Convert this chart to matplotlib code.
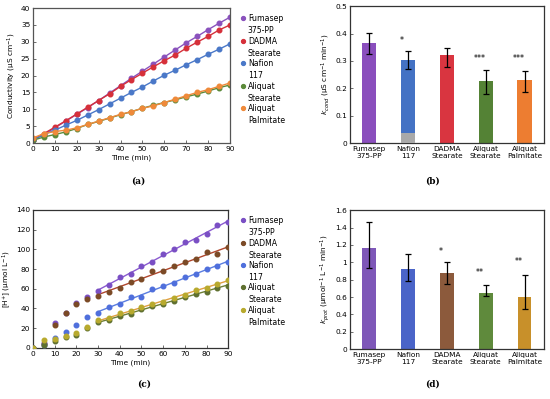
import numpy as np
import matplotlib
matplotlib.use("Agg")
import matplotlib.pyplot as plt
from matplotlib.ticker import FuncFormatter

# ---- data ----
t = np.arange(0, 95, 5)
names = ["Fumasep\n375-PP", "Nafion\n117", "DADMA\nStearate", "Aliquat\nStearate", "Aliquat\nPalmitate"]

# (a) conductivity vs time
cond_fum = [1.0, 2.5, 4.5, 6.5, 8.5, 10.5, 12.6, 14.8, 17.0, 19.2, 21.3, 23.4, 25.5, 27.6, 29.7, 31.6, 33.6, 35.5, 37.3]
cond_dad = [1.0, 2.8, 4.7, 6.6, 8.6, 10.6, 12.6, 14.6, 16.8, 18.8, 20.7, 22.6, 24.4, 26.1, 28.1, 29.9, 31.6, 33.5, 35.0]
cond_naf = [0.9, 2.5, 3.8, 5.3, 6.7, 8.3, 9.9, 11.6, 13.3, 15.0, 16.6, 18.4, 20.1, 21.6, 23.2, 24.7, 26.3, 27.8, 29.4]
cond_ast = [0.8, 1.8, 2.5, 3.3, 4.3, 5.5, 6.4, 7.4, 8.4, 9.3, 10.3, 11.2, 12.0, 12.8, 13.7, 14.5, 15.4, 16.4, 17.2]
cond_apa = [1.5, 2.8, 3.4, 3.8, 4.5, 5.5, 6.5, 7.5, 8.5, 9.3, 10.3, 11.0, 12.0, 13.0, 14.0, 15.0, 15.8, 16.8, 17.8]

# (b) k_cond
kc = [0.367, 0.305, 0.323, 0.225, 0.230]
kc_lo = [0.325, 0.270, 0.277, 0.180, 0.185]
kc_hi = [0.403, 0.335, 0.347, 0.265, 0.263]
kc_naf_base = 0.035
kc_stars = ["", "*", "", "***", "***"]
kc_star_y = [0, 0.376, 0, 0.31, 0.31]

# (c) [H+] vs time
h_fum = [0, 5, 25.5, 35.5, 46, 52, 58, 64, 72, 75, 83, 87, 95, 100, 107, 109, 116, 125, 128]
h_dad = [0, 4, 23, 35, 45, 50, 53, 57, 61, 67, 70, 78, 78, 83, 87, 90, 97, 95, 102]
h_naf = [0, 3, 10, 16, 23, 31, 35, 41, 45, 52, 52, 60, 63, 66, 72, 75, 80, 83, 87]
h_ast = [0, 3, 7.5, 11, 13.5, 20, 26, 28, 32, 34.5, 39.5, 43, 45, 48, 52, 55, 57, 61, 63]
h_apa = [0, 8, 9.5, 12.5, 15, 21, 28, 30, 35, 37, 41.5, 45, 47, 50.5, 54, 59, 60.5, 65, 69]

# (d) k_prot
kp = [1.17, 0.92, 0.88, 0.65, 0.60]
kp_lo = [0.94, 0.79, 0.75, 0.61, 0.46]
kp_hi = [1.47, 1.10, 1.00, 0.74, 0.85]
kp_stars = ["", "", "*", "**", "**"]
kp_star_y = [0, 0, 1.12, 0.88, 1.01]

leg_names = ["Fumasep\n375-PP", "DADMA\nStearate", "Nafion\n117", "Aliquat\nStearate", "Aliquat\nPalmitate"]

plt.rcParams["font.family"] = "DejaVu Sans"
plt.rcParams["mathtext.fontset"] = "dejavusans"
fs = 5.3

fig = plt.figure(figsize=(5.5, 3.99), dpi=100)

def style_axes(ax, edge="#555555"):
    for s in ax.spines.values():
        s.set_color(edge)
        s.set_linewidth(0.9)
    ax.tick_params(labelsize=fs, length=2, width=0.6, pad=2, color="#555555")

def side_legend(ax, colors, mx, tx, ys):
    # marker beside the first line of each two-line label
    for c, lab, y in zip(colors, leg_names, ys):
        ax.plot([mx], [y], "o", color=c, ms=2.8, transform=ax.transAxes, clip_on=False)
        ax.text(tx, y + 0.028, lab, transform=ax.transAxes, fontsize=fs + 0.3,
                va="top", ha="left", linespacing=1.45)

fmt = FuncFormatter(lambda v, p: "%g" % round(v, 2))

# ---- (a) ----
ax = fig.add_axes([0.06, 0.6416, 0.358, 0.338])
cols_a = ["#8a52bd", "#d6303a", "#4a78c8", "#5b8a3a", "#ef8a3a"]
for y, c in zip([cond_fum, cond_dad, cond_naf, cond_ast, cond_apa], cols_a):
    ax.plot(t, y, "-", color=c, lw=1.0)
    ax.plot(t, y, "o", color=c, ms=3.3, ls="none")
ax.set_xlim(0, 90)
ax.set_ylim(0, 40)
ax.set_xticks(range(0, 91, 10))
ax.set_yticks(range(0, 41, 5))
ax.set_xlabel("Time (min)", fontsize=fs, labelpad=2)
ax.set_ylabel("Conductivity (µS cm$^{-1}$)", fontsize=fs, labelpad=2)
style_axes(ax)
ax.tick_params(direction="in")
side_legend(ax, cols_a, 1.066, 1.091, [0.926, 0.759, 0.593, 0.426, 0.259])
fig.text(0.251, 0.541, "(a)", fontsize=6.5, fontweight="bold", family="DejaVu Serif", ha="center")

# ---- (b) ----
ax = fig.add_axes([0.636, 0.6416, 0.353, 0.343])
cols_b = ["#8a4ebd", "#4472c4", "#d93540", "#548235", "#ed7d31"]
xb = np.arange(len(kc))
yerr_b = [np.array(kc) - np.array(kc_lo), np.array(kc_hi) - np.array(kc)]
ax.bar(xb, kc, width=0.37, color=cols_b, zorder=2)
ax.bar([1], [kc_naf_base], width=0.37, color="#a9a9a9", zorder=3)
ax.errorbar(xb, kc, yerr=yerr_b, fmt="none", ecolor="black", elinewidth=0.9, capsize=2.5, capthick=0.9, zorder=4)
for i, s in enumerate(kc_stars):
    if s:
        ax.text(xb[i] - 0.15, kc_star_y[i], s, ha="center", va="center", fontsize=fs + 0.5)
ax.set_xlim(-0.5, 4.5)
ax.set_ylim(0, 0.5)
ax.set_yticks(np.arange(0, 0.51, 0.1))
ax.yaxis.set_major_formatter(fmt)
ax.set_xticks(xb)
ax.set_xticklabels(names, fontsize=fs)
ax.set_ylabel("$k_{cond}$ (µS cm$^{-1}$ min$^{-1}$)", fontsize=fs, labelpad=2)
style_axes(ax, edge="#333333")
ax.tick_params(axis="x", length=0)
ax.tick_params(axis="y", direction="in")
fig.text(0.787, 0.541, "(b)", fontsize=6.5, fontweight="bold", family="DejaVu Serif", ha="center")

# ---- (c) ----
ax = fig.add_axes([0.06, 0.128, 0.355, 0.346])
cols_c = ["#7a4fc4", "#7b4a26", "#4f6fdc", "#5f7030", "#b8aa2e"]
line_c = ["#8a5ad0", "#b0462c", "#5a7de0", "#6d7e34", "#e0a040"]
fit = t >= 30
for y, c, lc in zip([h_fum, h_dad, h_naf, h_ast, h_apa], cols_c, line_c):
    y = np.array(y)
    ax.plot(t, y, "o", color=c, ms=3.3, ls="none", zorder=3)
    p = np.polyfit(t[fit], y[fit], 1)
    ax.plot(t[fit], np.polyval(p, t[fit]), "-", color=lc, lw=1.0, zorder=2)
ax.set_xlim(0, 90)
ax.set_ylim(0, 140)
ax.set_xticks(range(0, 91, 10))
ax.set_yticks(range(0, 141, 20))
ax.set_xlabel("Time (min)", fontsize=fs, labelpad=2)
ax.set_ylabel("[H$^{+}$] (µmol L$^{-1}$)", fontsize=fs, labelpad=2)
style_axes(ax, edge="#333333")
ax.tick_params(direction="in")
side_legend(ax, cols_c, 1.077, 1.103, [0.928, 0.761, 0.601, 0.442, 0.275])
fig.text(0.262, 0.03, "(c)", fontsize=6.5, fontweight="bold", family="DejaVu Serif", ha="center")

# ---- (d) ----
ax = fig.add_axes([0.636, 0.125, 0.353, 0.348])
cols_d = ["#7e57b8", "#4a64c8", "#8c5a3c", "#5f8a3c", "#c8902a"]
xd = np.arange(len(kp))
yerr_d = [np.array(kp) - np.array(kp_lo), np.array(kp_hi) - np.array(kp)]
ax.bar(xd, kp, width=0.35, color=cols_d, zorder=2)
ax.errorbar(xd, kp, yerr=yerr_d, fmt="none", ecolor="black", elinewidth=0.9, capsize=2.5, capthick=0.9, zorder=4)
for i, s in enumerate(kp_stars):
    if s:
        ax.text(xd[i] - 0.15, kp_star_y[i], s, ha="center", va="center", fontsize=fs + 0.5)
ax.set_xlim(-0.5, 4.5)
ax.set_ylim(0, 1.6)
ax.set_yticks(np.arange(0, 1.61, 0.2))
ax.yaxis.set_major_formatter(fmt)
ax.set_xticks(xd)
ax.set_xticklabels(names, fontsize=fs)
ax.set_ylabel("$k_{prot}$ (µmol$^{-1}$ L$^{-1}$ min$^{-1}$)", fontsize=fs, labelpad=2)
style_axes(ax, edge="#333333")
ax.tick_params(axis="x", length=0)
ax.tick_params(axis="y", direction="in")
fig.text(0.787, 0.03, "(d)", fontsize=6.5, fontweight="bold", family="DejaVu Serif", ha="center")

fig.savefig("out.png", dpi=100)
